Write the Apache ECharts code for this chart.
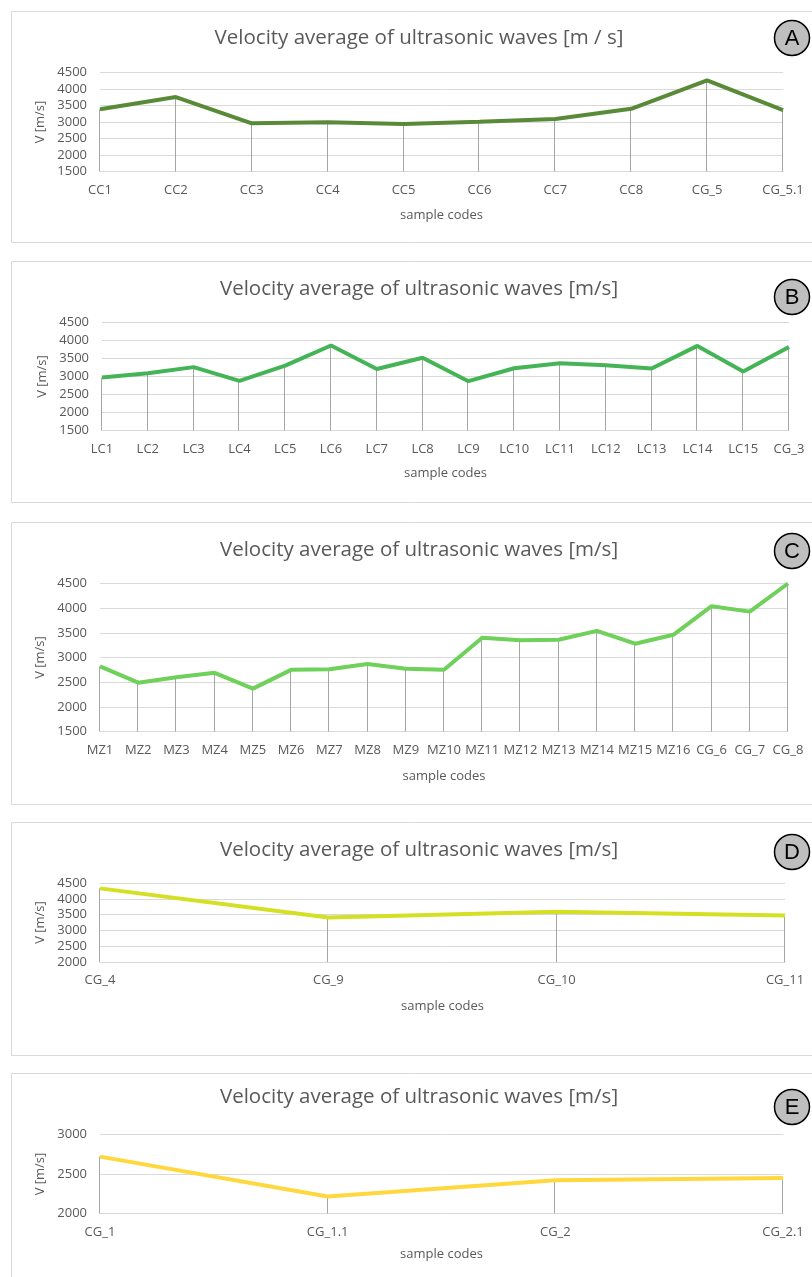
<!DOCTYPE html>
<html>
<head>
<meta charset="utf-8">
<script src="https://cdn.jsdelivr.net/npm/echarts@6/dist/echarts.min.js"></script>
<style>
  html, body { margin: 0; padding: 0; background: #fff; }
  #chart { width: 812px; height: 1277px; }
</style>
</head>
<body>
<div id="chart"></div>
<script>
// sample codes + average velocity per panel
var catsA = ['CC1', 'CC2', 'CC3', 'CC4', 'CC5', 'CC6', 'CC7', 'CC8', 'CG_5', 'CG_5.1'];
var valsA = [3385, 3755, 2960, 2990, 2940, 3010, 3090, 3400, 4260, 3360];

var catsB = ['LC1', 'LC2', 'LC3', 'LC4', 'LC5', 'LC6', 'LC7', 'LC8', 'LC9', 'LC10', 'LC11', 'LC12', 'LC13', 'LC14', 'LC15', 'CG_3'];
var valsB = [2970, 3090, 3260, 2880, 3300, 3860, 3210, 3520, 2870, 3230, 3370, 3310, 3220, 3850, 3140, 3820];

var catsC = ['MZ1', 'MZ2', 'MZ3', 'MZ4', 'MZ5', 'MZ6', 'MZ7', 'MZ8', 'MZ9', 'MZ10', 'MZ11', 'MZ12', 'MZ13', 'MZ14', 'MZ15', 'MZ16', 'CG_6', 'CG_7', 'CG_8'];
var valsC = [2820, 2490, 2600, 2690, 2370, 2750, 2760, 2870, 2770, 2750, 3400, 3350, 3360, 3540, 3280, 3460, 4040, 3930, 4500];

var catsD = ['CG_4', 'CG_9', 'CG_10', 'CG_11'];
var valsD = [4330, 3410, 3590, 3470];

var catsE = ['CG_1', 'CG_1.1', 'CG_2', 'CG_2.1'];
var valsE = [2720, 2215, 2420, 2450];

// y axis ranges
var yMin = [1500, 1500, 1500, 2000, 2000];
var yMax = [4500, 4500, 4500, 4500, 3000];

var titles = [
  'Velocity average of ultrasonic waves [m / s]',
  'Velocity average of ultrasonic waves [m/s]',
  'Velocity average of ultrasonic waves [m/s]',
  'Velocity average of ultrasonic waves [m/s]',
  'Velocity average of ultrasonic waves [m/s]'
];
var letters = ['A', 'B', 'C', 'D', 'E'];

var FONT = '"Open Sans", sans-serif';
var TXT = '#595959';

// layout of each panel
var panels = [
  { cats: catsA, vals: valsA, color: '#588A38', box: [11, 11, 242], titleY: 38, grid: { left: 100, top: 72.5, width: 683, height: 99 }, nameGap: 37, badgeY: 38 },
  { cats: catsB, vals: valsB, color: '#45B457', box: [11, 261, 502], titleY: 289, grid: { left: 102, top: 322.5, width: 687, height: 108 }, nameGap: 36, badgeY: 297 },
  { cats: catsC, vals: valsC, color: '#6FD05A', box: [11, 522, 804], titleY: 550, grid: { left: 100, top: 583.5, width: 688, height: 148 }, nameGap: 38, badgeY: 551 },
  { cats: catsD, vals: valsD, color: '#D4E023', box: [11, 822, 1055], titleY: 850, grid: { left: 100, top: 883, width: 685, height: 79 }, nameGap: 38, badgeY: 852 },
  { cats: catsE, vals: valsE, color: '#FFD83E', box: [11, 1073, 1290], titleY: 1097, grid: { left: 100, top: 1134.5, width: 683, height: 79 }, nameGap: 34, badgeY: 1107 }
];

var grids = [], xAxes = [], yAxes = [], series = [], graphics = [];

panels.forEach(function (p, i) {
  // panel frame
  graphics.push({
    type: 'rect', z: -10, silent: true,
    shape: { x: p.box[0] + 0.5, y: p.box[1] + 0.5, width: 830, height: p.box[2] - p.box[1] },
    style: { fill: '#fff', stroke: '#D9D9D9', lineWidth: 1 }
  });
  graphics.push({
    type: 'text', silent: true,
    x: 419, y: p.titleY,
    style: { text: titles[i], font: '20.5px ' + FONT, fill: TXT, align: 'center', verticalAlign: 'middle' }
  });
  // circled letter
  graphics.push({
    type: 'circle', silent: true,
    shape: { cx: 792, cy: p.badgeY, r: 17.5 },
    style: { fill: '#BFBFBF', stroke: '#000', lineWidth: 1.5 }
  });
  graphics.push({
    type: 'text', silent: true,
    x: 792, y: p.badgeY + 1,
    style: { text: letters[i], font: '22px "Liberation Sans", Arial, sans-serif', fill: '#000', align: 'center', verticalAlign: 'middle' }
  });

  grids.push(p.grid);
  xAxes.push({
    type: 'category', gridIndex: i, data: p.cats, boundaryGap: false,
    name: 'sample codes', nameLocation: 'middle', nameGap: p.nameGap,
    nameTextStyle: { color: TXT, fontFamily: FONT, fontSize: 13 },
    axisLine: { lineStyle: { color: '#D9D9D9' } },
    axisTick: { show: false },
    axisLabel: { interval: 0, color: TXT, fontFamily: FONT, fontSize: 13, margin: 12 }
  });
  yAxes.push({
    type: 'value', gridIndex: i, min: yMin[i], max: yMax[i], interval: 500,
    name: 'V [m/s]', nameLocation: 'middle', nameGap: 50,
    nameTextStyle: { color: TXT, fontFamily: FONT, fontSize: 13 },
    axisLine: { show: false },
    axisTick: { show: false },
    axisLabel: { color: TXT, fontFamily: FONT, fontSize: 13, margin: 13, formatter: function (v) { return String(v); } },
    splitLine: { lineStyle: { color: '#D9D9D9' } }
  });

  // drop lines from each point to the bottom of the plot
  series.push({
    type: 'custom', xAxisIndex: i, yAxisIndex: i, silent: true, z: 1,
    data: p.vals.map(function (v, k) { return [k, v]; }),
    renderItem: (function (min) {
      return function (params, api) {
        var top = api.coord([api.value(0), api.value(1)]);
        var bot = api.coord([api.value(0), min]);
        var x = Math.round(top[0]) - 0.5;
        return {
          type: 'line',
          shape: { x1: x, y1: top[1], x2: x, y2: bot[1] },
          style: { stroke: '#A6A6A6', lineWidth: 1 }
        };
      };
    })(yMin[i])
  });
  series.push({
    type: 'line', xAxisIndex: i, yAxisIndex: i, z: 3,
    data: p.vals, symbol: 'none',
    lineStyle: { color: p.color, width: 4 }
  });
});

var chart = echarts.init(document.getElementById('chart'));
chart.setOption({
  animation: false,
  grid: grids,
  xAxis: xAxes,
  yAxis: yAxes,
  series: series,
  graphic: graphics
});
</script>
</body>
</html>
